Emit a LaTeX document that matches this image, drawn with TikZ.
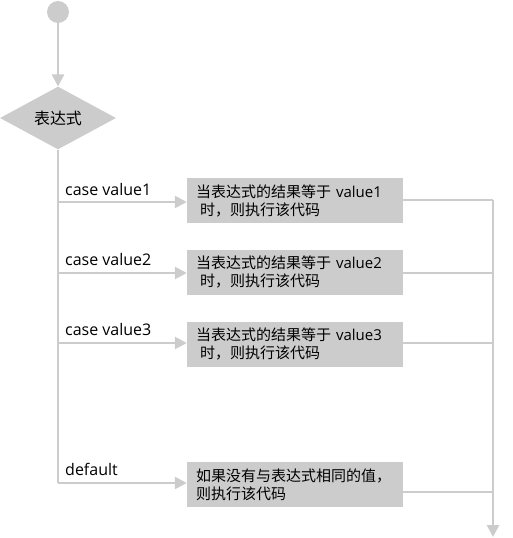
\documentclass[tikz,border=0pt]{standalone}
\usepackage{fontspec}
\setmainfont{Noto Sans CJK SC}
\newfontfamily\latfont{Open Sans}
\usetikzlibrary{shapes.geometric,arrows.meta}
\definecolor{lg}{HTML}{CCCCCC}
\begin{document}
\begin{tikzpicture}[x=1pt,y=-1pt,
  flow/.style={draw=lg,line width=2.6pt},
  arr/.style={flow,-{Triangle[length=12pt,width=12pt]}},
  actbox/.style={rectangle,fill=lg,minimum width=216pt,minimum height=45pt,
    text width=198pt,inner xsep=9pt,inner ysep=0pt,align=left,
    font=\fontsize{15}{18}\selectfont},
  lbl/.style={anchor=base west,inner sep=0pt,font=\latfont\fontsize{16}{18}\selectfont}]
\useasboundingbox (0,0) rectangle (512,538);
\node[circle,fill=lg,minimum size=22pt,inner sep=0pt] (start) at (58,12) {};
\node[diamond,fill=lg,minimum width=116pt,minimum height=60pt,inner sep=0pt,
  font=\fontsize{16}{18}\selectfont] (expr) at (58,118) {表达式};
\node[actbox] (b1) at (295,200.5) {当表达式的结果等于 {\latfont value1}\\\hspace*{4pt}时，则执行该代码};
\node[actbox] (b2) at (295,272) {当表达式的结果等于 {\latfont value2}\\\hspace*{4pt}时，则执行该代码};
\node[actbox] (b3) at (295,344) {当表达式的结果等于 {\latfont value3}\\\hspace*{4pt}时，则执行该代码};
\node[actbox] (b4) at (295,484.5) {如果没有与表达式相同的值，\\则执行该代码};
\node[lbl] (l1) at (65,195) {case value1};
\node[lbl] (l2) at (65,265) {case value2};
\node[lbl] (l3) at (65,335) {case value3};
\node[lbl] (l4) at (65,475) {default};
\coordinate (t1) at (58,202);
\coordinate (t2) at (58,273);
\coordinate (t3) at (58,343);
\coordinate (t4) at (58,483);
\coordinate (r1) at (493,200);
\coordinate (r2) at (493,273);
\coordinate (r3) at (493,343);
\coordinate (r4) at (493,492);
\coordinate (end) at (493,537);
\draw[arr] (start) -- (expr.north);
\draw[flow] (expr.south) -- (t4);
\draw[arr] (t1) -- (t1 -| b1.west);
\draw[arr] (t2) -- (t2 -| b2.west);
\draw[arr] (t3) -- (t3 -| b3.west);
\draw[arr] (t4) -- (t4 -| b4.west);
\draw[flow] (r1 -| b1.east) -- (r1);
\draw[flow] (r2 -| b2.east) -- (r2);
\draw[flow] (r3 -| b3.east) -- (r3);
\draw[flow] (r4 -| b4.east) -- (r4);
\draw[arr] (r1) -- (end);
\end{tikzpicture}
\end{document}
